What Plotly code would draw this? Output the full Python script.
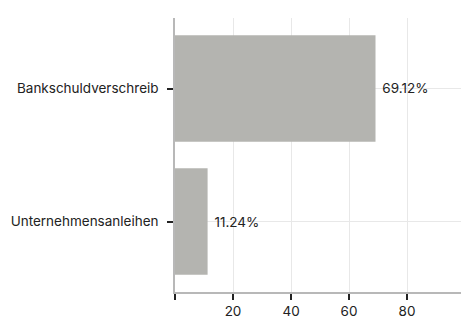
import plotly.graph_objects as go

categories = ["Unternehmensanleihen", "Bankschuldverschreib"]
values = [11.24, 69.12]
labels = ["11.24%", "69.12%"]
x_tickvals = [0, 20, 40, 60, 80]
x_ticktext = ["", "20", "40", "60", "80"]

fig = go.Figure(go.Bar(
    x=values, y=categories, orientation="h",
    marker=dict(color="#b4b4b0", line=dict(width=0)),
    text=[" " + t for t in labels], textposition="outside",
    textfont=dict(family="Inter", size=13.5, color="#222"),
    cliponaxis=False,
))

fig.update_layout(
    width=462, height=310,
    margin=dict(l=167, r=0, t=10, b=26),
    paper_bgcolor="white", plot_bgcolor="white",
    bargap=0.2, showlegend=False,
    font=dict(family="Inter", size=13.5, color="#222"),
)
fig.update_xaxes(
    range=[0, 101.7], tickvals=x_tickvals, ticktext=x_ticktext,
    showgrid=True, gridcolor="#e8e8e8", gridwidth=1,
    zeroline=False, showline=True, linecolor="#b8b8b8", linewidth=1.5,
    ticks="outside", ticklen=6, tickwidth=2, tickcolor="#222",
    minor=dict(tickvals=[100], showgrid=True, gridcolor="#e8e8e8", ticks=""),
)
fig.update_yaxes(
    range=[-0.53, 1.53], showgrid=True, gridcolor="#e8e8e8",
    showline=True, linecolor="#b8b8b8", linewidth=1.5,
    ticks="outside", ticklen=6, tickwidth=2, tickcolor="#222",
    ticklabelstandoff=6,
)
fig.write_html("out.html")
